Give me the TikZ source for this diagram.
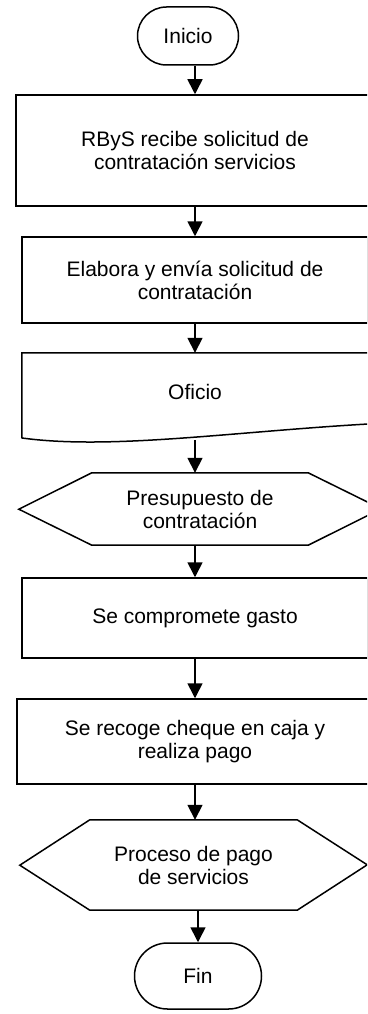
\documentclass[tikz,border=0pt]{standalone}
\usepackage{fontspec}
\setmainfont{Liberation Sans}
\usetikzlibrary{shapes.misc,arrows.meta}

\begin{document}
\begin{tikzpicture}[x=1pt,y=-1pt,
  every node/.style={font=\fontsize{21}{23}\selectfont, align=center},
  linea/.style={line width=1.5pt},
  terminal/.style={rounded rectangle, draw, linea, inner sep=0pt},
  proceso/.style={rectangle, draw, linea, inner sep=0pt},
  hueco/.style={rectangle, inner sep=0pt},
  flecha/.style={line width=1.6pt, -{Triangle[length=15pt,width=15pt]}}]

  \fill[white] (0,0) rectangle (367,1014);
  \useasboundingbox (0,0) rectangle (367,1014);
  \clip (0,0) rectangle (367,1014);

  \node[terminal, minimum width=101pt, minimum height=58pt] (ini) at (188,36) {Inicio};
  \node[proceso, minimum width=358pt, minimum height=111pt] (rbys) at (195,150.5)
    {RByS recibe solicitud de\\contratación servicios};
  \node[proceso, minimum width=346pt, minimum height=86pt] (elab) at (195,280)
    {Elabora y envía solicitud de\\contratación};

  % documento
  \node[hueco, minimum width=346pt, minimum height=78pt] (ofi) at (195,392) {Oficio};
  \draw[linea] (22,438) -- (ofi.north west) -- (ofi.north east) -- (368,424)
    .. controls (230,432) and (110,450) .. (22,438) -- cycle;
  \coordinate (ofibot) at (195,440);

  % hexagonos
  \node[hueco, minimum width=216pt, minimum height=72pt] (pres) at (200,509)
    {Presupuesto de\\contratación};
  \draw[linea] (pres.north west) -- (pres.north east) -- ++(73,36) -- (pres.south east)
    -- (pres.south west) -- ++(-73,-36) -- cycle;

  \node[proceso, minimum width=346pt, minimum height=80pt] (gasto) at (195,618)
    {Se compromete gasto};
  \node[proceso, minimum width=356pt, minimum height=85pt] (cheq) at (195,741.5)
    {Se recoge cheque en caja y\\realiza pago};

  \node[hueco, minimum width=207pt, minimum height=90pt] (proc) at (193.5,865)
    {Proceso de pago\\de servicios};
  \draw[linea] (proc.north west) -- (proc.north east) -- ++(70,45) -- (proc.south east)
    -- (proc.south west) -- ++(-70,-45) -- cycle;

  \node[terminal, minimum width=127pt, minimum height=66pt] (fin) at (198,976) {Fin};

  % flechas
  \draw[flecha] (ini.south -| rbys.north) -- (rbys.north);
  \draw[flecha] (rbys.south) -- (elab.north);
  \draw[flecha] (elab.south) -- (ofi.north);
  \draw[flecha] (ofibot) -- (ofibot |- pres.north);
  \draw[flecha] (pres.south -| gasto.north) -- (gasto.north);
  \draw[flecha] (gasto.south) -- (cheq.north);
  \draw[flecha] (cheq.south) -- (cheq.south |- proc.north);
  \draw[flecha] (proc.south -| fin.north) -- (fin.north);
\end{tikzpicture}
\end{document}
